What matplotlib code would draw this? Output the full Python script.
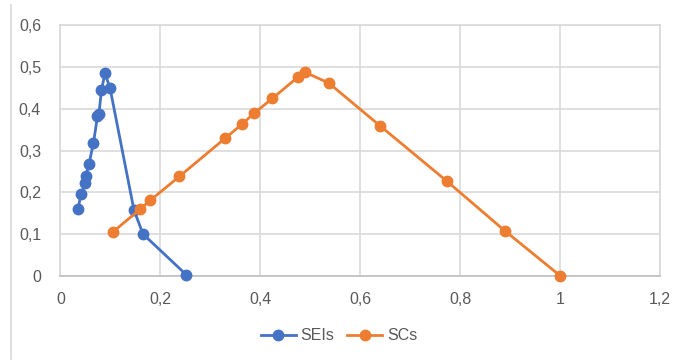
import matplotlib
matplotlib.use('Agg')
import matplotlib.pyplot as plt
from matplotlib.lines import Line2D
from matplotlib.ticker import FuncFormatter

# SEIs series
sei_x = [0.035, 0.041, 0.050, 0.051, 0.057, 0.066, 0.074, 0.077, 0.082, 0.089, 0.099, 0.147, 0.165, 0.252]
sei_y = [0.160, 0.195, 0.222, 0.240, 0.268, 0.318, 0.382, 0.388, 0.445, 0.485, 0.451, 0.158, 0.100, 0.002]

# SCs series
sc_x = [0.105, 0.159, 0.180, 0.238, 0.329, 0.364, 0.387, 0.424, 0.476, 0.489, 0.537, 0.639, 0.774, 0.889, 1.0]
sc_y = [0.105, 0.159, 0.181, 0.238, 0.329, 0.364, 0.389, 0.425, 0.477, 0.488, 0.462, 0.360, 0.226, 0.108, 0.0]

x_ticks = [0, 0.2, 0.4, 0.6, 0.8, 1.0, 1.2]
y_ticks = [0, 0.1, 0.2, 0.3, 0.4, 0.5, 0.6]

blue = '#4472c4'
orange = '#ed7d31'
grid_c = '#d9d9d9'
text_c = '#595959'

plt.rcParams['font.family'] = ['Liberation Sans Narrow', 'Liberation Sans', 'DejaVu Sans']

fig = plt.figure(figsize=(6.78, 3.61), dpi=100)
ax = fig.add_axes([0.0892, 0.2363, 0.9735 - 0.0892, 0.9294 - 0.2363])

ax.plot(sei_x, sei_y, '-o', color=blue, lw=2, markersize=7.5, zorder=3, clip_on=False)
ax.plot(sc_x, sc_y, '-o', color=orange, lw=2, markersize=7.5, zorder=3, clip_on=False)

ax.set_xlim(0, 1.2)
ax.set_ylim(0, 0.6)
ax.set_xticks(x_ticks)
ax.set_yticks(y_ticks)

def fmt(v, pos):
    s = ('%.1f' % v).rstrip('0').rstrip('.')
    return s.replace('.', ',')

ax.xaxis.set_major_formatter(FuncFormatter(fmt))
ax.yaxis.set_major_formatter(FuncFormatter(fmt))
ax.grid(True, color=grid_c, lw=1.2, zorder=0)
for s in ['top', 'right', 'left']:
    ax.spines[s].set_color(grid_c)
    ax.spines[s].set_linewidth(1.2)
ax.spines['bottom'].set_color('#bfbfbf')
ax.spines['bottom'].set_linewidth(1.2)
ax.tick_params(length=0, labelsize=11.5, colors=text_c, pad=12)
ax.tick_params(axis='y', pad=14)

handles = [Line2D([], [], color=blue, lw=2, marker='o', markersize=7.5),
           Line2D([], [], color=orange, lw=2, marker='o', markersize=7.5)]
fig.legend(handles, ['SEIs', 'SCs'], loc='center', bbox_to_anchor=(0.5, 0.07),
           ncol=2, frameon=False, fontsize=11.5, labelcolor=text_c,
           handlelength=2.2, handletextpad=0.3, columnspacing=0.8)

# chart border at left edge
fig.add_artist(Line2D([11 / 678, 11 / 678], [0.005, 0.985], color=grid_c, lw=1.2,
                      transform=fig.transFigure))

fig.savefig('out.png', dpi=100)
